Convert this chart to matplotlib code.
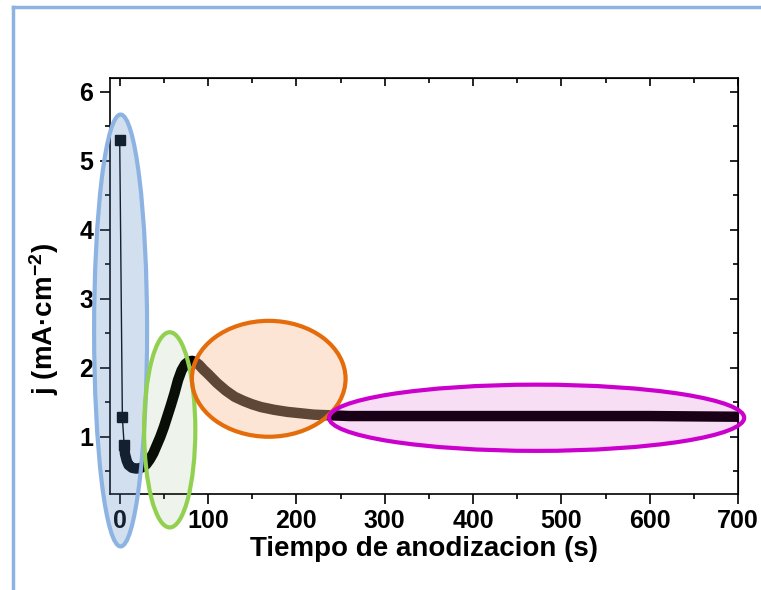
import matplotlib
matplotlib.use("Agg")
import matplotlib.pyplot as plt
from matplotlib.patches import Ellipse
from matplotlib.lines import Line2D
from matplotlib.ticker import MultipleLocator, NullFormatter

plt.rcParams["font.family"] = ["Liberation Sans", "DejaVu Sans"]
plt.rcParams["font.weight"] = "bold"
plt.rcParams["mathtext.fontset"] = "custom"
plt.rcParams["mathtext.rm"] = "Liberation Sans:bold"
plt.rcParams["mathtext.default"] = "rm"

# anodizing current density transient
t_s = [0, 3, 5, 6, 8, 10, 14, 18, 22, 26, 30, 34, 38, 42, 46, 50, 54, 58, 62,
       66, 70, 74, 78, 82, 86, 90, 95, 100, 110, 120, 130, 140, 150, 160, 175,
       190, 205, 220, 240, 260, 300, 400, 500, 600, 700]
j_mA = [5.30, 1.28, 0.88, 0.75, 0.65, 0.59, 0.55, 0.54, 0.54, 0.56, 0.60, 0.67,
        0.76, 0.88, 1.00, 1.14, 1.30, 1.46, 1.63, 1.82, 1.96, 2.05, 2.09, 2.10,
        2.08, 2.04, 1.97, 1.91, 1.78, 1.67, 1.58, 1.52, 1.47, 1.43, 1.39, 1.36,
        1.34, 1.32, 1.31, 1.30, 1.30, 1.30, 1.30, 1.30, 1.29]

# highlighted regions: center x, center y, width, height (data units)
reg_cx = [1, 56.6, 168.7, 472]
reg_cy = [2.54, 1.10, 1.84, 1.275]
reg_w = [60, 58, 174, 470]
reg_h = [6.26, 2.83, 1.68, 0.96]
reg_edge = ["#8db3e2", "#92d050", "#e46c0a", "#cc00cc"]
reg_fill = ["#4f81bd", "#5e8d4b", "#fabb92", "#c800b4"]
reg_alpha = [0.25, 0.10, 0.38, 0.13]

fig = plt.figure(figsize=(7.61, 5.90), dpi=100)
ax = fig.add_axes([110 / 761, 96 / 590, 628 / 761, 416 / 590])

# first points as separate squares, then the dense part drawn as a thick band
ax.plot(t_s[:3], j_mA[:3], color="#000000", lw=1, marker="s", ms=7, zorder=3)
ax.plot(t_s[2:], j_mA[2:], color="black", lw=7.5, solid_capstyle="butt",
        solid_joinstyle="round", zorder=3)

for cx, cy, w, h, ec, fc, a in zip(reg_cx, reg_cy, reg_w, reg_h, reg_edge, reg_fill, reg_alpha):
    ax.add_patch(Ellipse((cx, cy), w, h, facecolor=fc, alpha=a, edgecolor="none",
                         clip_on=False, zorder=4))
    ax.add_patch(Ellipse((cx, cy), w, h, facecolor="none", edgecolor=ec, lw=3,
                         clip_on=False, zorder=5))

ax.set_xlim(-11, 700)
ax.set_ylim(0.17, 6.2)
ax.xaxis.set_major_locator(MultipleLocator(100))
ax.xaxis.set_minor_locator(MultipleLocator(50))
ax.yaxis.set_major_locator(MultipleLocator(1))
ax.yaxis.set_minor_locator(MultipleLocator(0.5))
ax.set_yticks([1, 2, 3, 4, 5, 6])

ax.tick_params(which="both", direction="out", width=1.2, labelsize=18)
ax.tick_params(which="major", length=7)
ax.tick_params(which="minor", length=3.5)
ax.tick_params(axis="y", pad=5)
ax.tick_params(axis="x", pad=4)
for s in ax.spines.values():
    s.set_linewidth(1.2)

# mirrored inward ticks on top and right
top = ax.secondary_xaxis("top")
right = ax.secondary_yaxis("right")
top.xaxis.set_major_locator(MultipleLocator(100))
top.xaxis.set_minor_locator(MultipleLocator(50))
right.yaxis.set_major_locator(MultipleLocator(1))
right.yaxis.set_minor_locator(MultipleLocator(0.5))
for sec in (top, right):
    sec.tick_params(which="both", direction="in", width=1.2, labelsize=0)
    sec.tick_params(which="major", length=6)
    sec.tick_params(which="minor", length=3.5)
top.xaxis.set_major_formatter(NullFormatter())
right.yaxis.set_major_formatter(NullFormatter())

ax.set_xlabel("Tiempo de anodizacion (s)", fontsize=20, fontweight="bold")
ax.set_ylabel("j (mA·cm$^{-2}$)", fontsize=20, fontweight="bold")
ax.xaxis.set_label_coords(0.5, -0.1)
ax.yaxis.set_label_coords(-0.078, 0.42)

# slide frame lines
fig.add_artist(Line2D([13 / 761, 1], [1 - 7 / 590, 1 - 7 / 590], color="#8db3e2", lw=2.5))
fig.add_artist(Line2D([13 / 761, 13 / 761], [0, 1 - 7 / 590], color="#8db3e2", lw=2.5))

fig.savefig("out.png", dpi=100)
